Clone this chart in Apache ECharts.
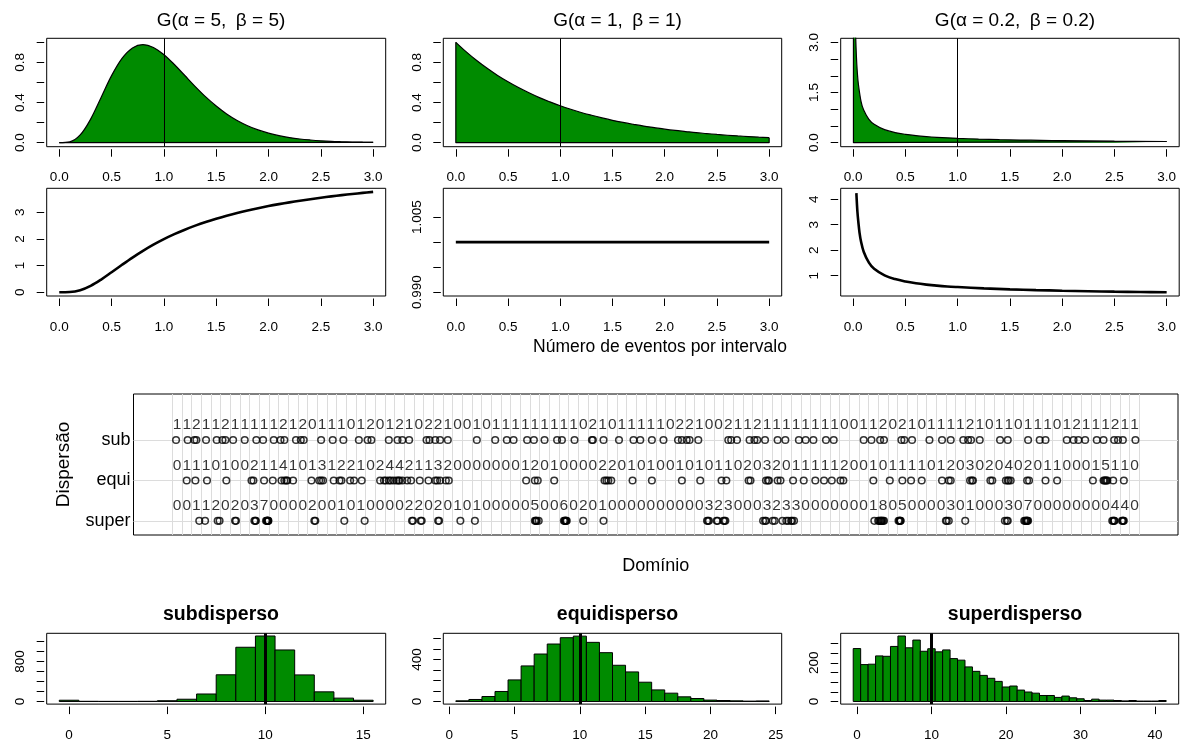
<!DOCTYPE html>
<html><head><meta charset="utf-8">
<script src="https://cdn.jsdelivr.net/npm/echarts@6/dist/echarts.min.js"></script>
<style>html,body{margin:0;padding:0;background:#fff}#c{width:1180px;height:744px}</style>
</head><body><div id="c"></div>
<script>
// ---------- data ----------
const tGrid = [0,0.1,0.2,0.3,0.4,0.5,0.6,0.7,0.8,0.9,1.0,1.1,1.2,1.3,1.4,1.5,1.6,1.7,1.8,1.9,2.0,2.1,2.2,2.3,2.4,2.5,2.6,2.7,2.8,2.9,3.0];
const dens55 = [0,0.008,0.077,0.235,0.451,0.668,0.840,0.944,0.977,0.949,0.877,0.779,0.669,0.559,0.456,0.365,0.286,0.221,0.169,0.127,0.095,0.070,0.051,0.037,0.027,0.019,0.013,0.0095,0.0067,0.0046,0.0032];
const densExp = [1.0,0.905,0.819,0.741,0.670,0.607,0.549,0.497,0.449,0.407,0.368,0.333,0.301,0.273,0.247,0.223,0.202,0.183,0.165,0.150,0.135,0.122,0.111,0.100,0.091,0.082,0.074,0.067,0.061,0.055,0.050];
const t02 = [0.002,0.01,0.02,0.03,0.04,0.05,0.075,0.1,0.15,0.2,0.3,0.4,0.5,0.6,0.7,0.8,0.9,1.0,1.2,1.4,1.6,1.8,2.0,2.5,3.0];
const dens02 = [22,6.27,3.60,2.60,2.06,1.73,1.23,0.976,0.699,0.550,0.390,0.303,0.249,0.211,0.183,0.161,0.144,0.129,0.107,0.091,0.079,0.069,0.061,0.046,0.036];
const haz55 = [0,0.008,0.077,0.240,0.476,0.750,1.031,1.302,1.553,1.784,1.992,2.179,2.348,2.499,2.636,2.760,2.874,2.976,3.069,3.154,3.234,3.306,3.373,3.433,3.492,3.546,3.596,3.643,3.687,3.728,3.766];
const tHazExp = [0,3]; const hazExp = [1,1];
const tHaz02 = [0.03,0.04,0.05,0.06,0.075,0.1,0.15,0.2,0.3,0.4,0.5,0.6,0.7,0.8,0.9,1.0,1.25,1.5,1.75,2.0,2.25,2.5,2.75,3.0];
const haz02 = [4.24,3.51,3.06,2.69,2.33,1.94,1.51,1.27,1.01,0.863,0.768,0.699,0.648,0.607,0.575,0.552,0.50,0.462,0.432,0.408,0.388,0.371,0.357,0.345];

const rowNames = ['super','equi','sub'];
const subCounts = [1,1,2,1,1,2,1,1,1,1, 1,2,1,2,0,1,1,1,0,1, 2,0,1,2,1,0,2,2,1,0, 0,1,0,1,1,1,1,1,1,1, 1,1,0,2,1,0,1,1,1,1,
                   1,0,2,2,1,0,0,2,1,1, 2,1,1,1,1,1,1,1,1,0, 0,1,1,2,0,2,1,0,1,1, 1,1,2,1,0,1,1,0,1,1, 1,0,1,2,1,1,1,2,1,1];
const equiCounts = [0,1,1,1,0,1,0,0,2,1, 1,4,1,0,1,3,1,2,2,1, 0,2,4,4,2,1,1,3,2,0, 0,0,0,0,0,0,1,2,0,1, 0,0,0,0,2,2,0,1,0,1,
                    0,0,1,0,1,0,1,1,0,2, 0,3,2,0,1,1,1,1,1,2, 0,0,1,0,1,1,1,1,0,1, 2,0,3,0,2,0,4,0,2,0, 1,1,0,0,0,1,5,1,1,0];
const superCounts = [0,0,1,1,2,0,2,0,3,7, 0,0,0,0,2,0,0,1,0,1, 0,0,0,0,2,2,0,2,0,1, 0,1,0,0,0,0,0,5,0,0, 6,0,2,0,1,0,0,0,0,0,
                     0,0,0,0,0,3,2,3,0,0, 0,3,2,3,3,0,0,0,0,0, 0,0,1,8,0,5,0,0,0,0, 3,0,1,0,0,0,3,0,7,0, 0,0,0,0,0,0,0,4,4,0];
const subEvents = [0.4,1.6,2.3,2.5,3.5,4.6,5.2,5.5,6.3,7.5,8.7,9.4,10.5,11.2,11.6,12.8,13.3,13.6,15.4,16.6,17.7,19.3,20.2,20.6,22.4,23.3,23.8,24.5,
  26.3,26.6,27.2,27.7,28.5,31.5,33.4,34.6,35.3,36.7,37.4,38.5,39.8,40.3,41.6,43.4,43.5,44.6,46.2,47.7,48.4,49.6,50.8,52.3,52.7,53.2,53.5,54.4,
  57.5,57.8,58.4,59.7,60.2,60.5,61.3,62.6,63.4,64.8,65.5,66.3,67.6,68.4,71.5,72.3,73.2,73.6,75.4,75.7,76.5,78.3,79.6,80.5,81.8,82.3,82.6,83.5,
  85.6,86.4,88.5,89.7,90.3,92.5,93.2,93.7,94.4,95.6,96.3,97.4,97.8,98.3,99.6];
const equiEvents = [1.5,2.4,3.6,5.6,8.2,8.4,9.5,10.4,11.3,11.6,11.8,11.9,12.5,14.4,15.2,15.4,15.6,16.7,17.3,17.5,18.4,18.8,19.6,21.5,21.9,
  22.1,22.4,22.6,22.9,23.2,23.4,23.5,23.8,24.3,24.7,25.6,26.5,27.2,27.4,27.7,28.3,28.6,36.6,37.5,37.8,39.5,44.7,44.9,45.1,45.4,47.6,49.6,
  52.7,54.6,56.8,57.3,59.6,59.8,61.4,61.6,61.7,62.6,62.9,64.2,65.3,66.5,67.4,68.2,69.1,69.4,72.5,74.2,75.5,76.4,77.5,79.6,80.3,80.5,
  82.5,82.7,82.8,84.6,84.8,86.2,86.4,86.5,86.7,88.4,88.6,90.3,91.5,95.2,96.3,96.4,96.5,96.6,96.7,97.3,98.4];
const superEvents = [2.8,3.4,4.7,4.9,6.5,6.6,8.5,8.6,8.65,9.7,9.8,9.82,9.85,9.9,9.92,9.95,14.7,14.8,17.8,19.9,24.8,24.9,25.7,25.8,27.5,27.6,29.8,
  31.3,37.5,37.6,37.62,37.7,37.9,40.5,40.6,40.62,40.7,40.72,40.8,42.5,44.6,55.3,55.4,55.5,56.3,56.4,57.0,57.1,57.2,61.1,61.3,61.4,62.1,62.3,
  63.1,63.5,63.7,64.0,64.1,64.3,72.6,73.0,73.1,73.2,73.3,73.32,73.4,73.5,73.6,75.1,75.2,75.22,75.3,75.32,80.0,80.1,80.3,82.0,86.1,86.3,86.4,
  88.1,88.2,88.3,88.32,88.4,88.42,88.5,97.2,97.3,97.4,97.42,98.2,98.3,98.32,98.4];

const subVals   = [25,3,2,2,3,15,45,150,535,1087,1313,1033,533,193,67,25];
const equiStart = 1;
const equiVals  = [6,19,47,95,205,338,451,546,606,621,562,464,344,281,183,110,79,44,28,13,9,6,3,5];
const superStart = 0;
const superVals = [274,191,193,236,234,285,339,278,318,260,273,257,267,222,214,179,156,135,120,104,75,80,59,49,43,31,31,21,28,19,14,5,12,7,7,5,3,5,2,2,2,5];
const meanLine = 10;

// ---------- helpers ----------
const FONT = "'Liberation Sans', Arial, Helvetica, sans-serif";
const GREEN = '#008b00';
const zip = (a,b)=>a.map((v,i)=>[v,b[i]]);
const grids = [
  {left:46.7, top:38.3, width:339, height:108.4},
  {left:443.3, top:38.3, width:338.4, height:108.4},
  {left:840.7, top:38.3, width:338.5, height:108.4},
  {left:46.7, top:188.3, width:339, height:107.7},
  {left:443.3, top:188.3, width:338.4, height:107.7},
  {left:840.7, top:188.3, width:338.5, height:107.7},
  {left:133.5, top:394, width:1044.5, height:141},
  {left:46.7, top:633.3, width:339, height:70.8},
  {left:443.3, top:633.3, width:338.4, height:70.8},
  {left:840.7, top:633.3, width:338, height:70.8}
].map(g=>Object.assign({show:true, borderColor:'#000', borderWidth:1, backgroundColor:'transparent', containLabel:false}, g));

function xAx(gi, min, max, ticks, fmt){
  return {type:'value', gridIndex:gi, min, max, offset:2.5,
    axisLine:{show:false, onZero:false}, splitLine:{show:false},
    axisTick:{show:true, length:7.5, customValues:ticks, lineStyle:{color:'#000', width:1}},
    axisLabel:{show:true, customValues:ticks, formatter:fmt, color:'#000', fontSize:13.5, fontFamily:FONT, margin:21.5}};
}
function yAx(gi, min, max, ticks, labels, fmt){
  return {type:'value', gridIndex:gi, min, max, offset:2.5,
    axisLine:{show:false, onZero:false}, splitLine:{show:false},
    axisTick:{show:true, length:7.5, customValues:ticks, lineStyle:{color:'#000', width:1}},
    axisLabel:{show:true, customValues:labels, formatter:fmt, rotate:90, color:'#000', fontSize:13.5, fontFamily:FONT, margin:17}};
}
const f1 = v=>v.toFixed(1), f0 = v=>String(Math.round(v)), f3 = v=>v.toFixed(3);
const xT = [0,0.5,1,1.5,2,2.5,3];

const xAxes = [], yAxes = [], series = [];
for (let i=0;i<6;i++) xAxes.push(xAx(i,-0.12,3.12,xT,f1));
yAxes.push(yAx(0,-0.04,1.04,[0,0.2,0.4,0.6,0.8,1.0],[0,0.4,0.8],f1));
yAxes.push(yAx(1,-0.04,1.04,[0,0.2,0.4,0.6,0.8,1.0],[0,0.4,0.8],f1));
yAxes.push(yAx(2,-0.12,3.12,[0,0.5,1,1.5,2,2.5,3],[0,1.5,3],f1));
yAxes.push(yAx(3,-0.14,3.9,[0,1,2,3],[0,1,2,3],f0));
yAxes.push(yAx(4,0.9892,1.0108,[0.990,0.995,1.000,1.005],[0.990,1.005],f3));
yAxes.push(yAx(5,0.2,4.43,[1,2,3,4],[1,2,3,4],f0));

const vline = v => ({silent:true, symbol:['none','none'], label:{show:false}, animation:false,
  lineStyle:{color:'#000', width:1, type:'solid'}, data:[{xAxis:v}]});

function densSeries(ai, xs, ys){
  series.push({type:'line', xAxisIndex:ai, yAxisIndex:ai, data:zip(xs,ys), smooth:0.35, showSymbol:false, clip:true,
    lineStyle:{color:'#000', width:1.2}, areaStyle:{color:GREEN, opacity:1}, markLine:vline(1), z:2});
  const n = xs.length-1;
  series.push({type:'line', xAxisIndex:ai, yAxisIndex:ai, showSymbol:false, clip:true,
    data:[[xs[n],ys[n]],[xs[n],0],[xs[0],0],[xs[0],ys[0]]], lineStyle:{color:'#000', width:1.2}, z:3});
}
densSeries(0, tGrid, dens55);
densSeries(1, tGrid, densExp);
densSeries(2, t02, dens02);
function hazSeries(ai, xs, ys){
  series.push({type:'line', xAxisIndex:ai, yAxisIndex:ai, data:zip(xs,ys), smooth:0.35, showSymbol:false, clip:true,
    lineStyle:{color:'#000', width:2.6}});
}
hazSeries(3, tGrid, haz55);
hazSeries(4, tHazExp, hazExp);
hazSeries(5, tHaz02, haz02);

// ---------- strip ----------
xAxes.push({type:'value', gridIndex:6, min:-4, max:104, show:true, axisLine:{show:false, onZero:false}, axisTick:{show:false}, axisLabel:{show:false}, splitLine:{show:false},
  name:'Domínio', nameLocation:'middle', nameGap:22, nameTextStyle:{color:'#000', fontSize:18, fontFamily:FONT}});
yAxes.push({type:'value', gridIndex:6, min:0.65, max:4.14, axisLine:{show:false, onZero:false}, axisTick:{show:false}, splitLine:{show:false},
  axisLabel:{show:true, customValues:[1,2,3], formatter:v=>rowNames[Math.round(v)-1], color:'#000', fontSize:18, fontFamily:FONT, margin:3},
  name:'Dispersão', nameLocation:'middle', nameRotate:90, nameGap:60, nameTextStyle:{color:'#000', fontSize:19, fontFamily:FONT}});

const rowCounts = [superCounts, equiCounts, subCounts];
const rowEvents = [superEvents, equiEvents, subEvents];
const labelData = [], gridLines = [], pts = [];
rowCounts.forEach((cs, r) => cs.forEach((c, i) => labelData.push([i+0.5, r+1+0.375, c])));
rowEvents.forEach((ev, r) => ev.forEach(t => pts.push([t, r+1])));
for (let i=0;i<=subCounts.length;i++) gridLines.push({xAxis:i});
for (let r=1;r<=3;r++) gridLines.push({yAxis:r});
series.push({type:'scatter', xAxisIndex:6, yAxisIndex:6, data:labelData, symbolSize:1, itemStyle:{color:'rgba(0,0,0,0)'},
  label:{show:true, position:'inside', formatter:p=>String(p.value[2]), color:'#000', fontSize:15.5, fontFamily:FONT},
  markLine:{silent:true, symbol:['none','none'], label:{show:false}, animation:false, lineStyle:{color:'#dcdcdc', width:1, type:'solid'}, data:gridLines}, z:2});
series.push({type:'scatter', xAxisIndex:6, yAxisIndex:6, data:pts, symbol:'circle', symbolSize:6.6,
  itemStyle:{color:'rgba(0,0,0,0)', borderColor:'#000', borderWidth:1.5}, z:5});

// ---------- histograms ----------
function histItem(params, api){
  const k = api.value(0), c = api.value(1);
  const p0 = api.coord([k-0.5, 0]), p1 = api.coord([k+0.5, c]);
  return {type:'rect', shape:{x:p0[0], y:p1[1], width:p1[0]-p0[0], height:p0[1]-p1[1]},
    style:{fill:GREEN, stroke:'#000', lineWidth:1}};
}
function hist(gi, start, vals, xmin, xmax, xt, ymin, ymax, yt, yl){
  xAxes.push(xAx(gi, xmin, xmax, xt, f0));
  yAxes.push(yAx(gi, ymin, ymax, yt, yl, f0));
  const ai = xAxes.length-1;
  series.push({type:'custom', xAxisIndex:ai, yAxisIndex:ai, renderItem:histItem, clip:true,
    data:vals.map((v,i)=>[start+i, v]), encode:{x:0,y:1}});
  series.push({type:'line', xAxisIndex:ai, yAxisIndex:ai, data:[[meanLine,0]], showSymbol:false, lineStyle:{width:0},
    markLine:{silent:true, symbol:['none','none'], label:{show:false}, animation:false, lineStyle:{color:'#000', width:3, type:'solid'}, data:[{xAxis:meanLine}]}, z:4});
}
hist(7, 0, subVals, -1.14, 16.14, [0,5,10,15], -52.6, 1367, [0,200,400,600,800,1000,1200], [0,800]);
hist(8, equiStart, equiVals, -0.46, 25.46, [0,5,10,15,20,25], -25, 648, [0,100,200,300,400,500,600], [0,400]);
hist(9, superStart, superVals, -2.18, 43.18, [0,10,20,30,40], -13.6, 353, [0,50,100,150,200,250,300], [0,200]);

// ---------- titles ----------
const tt = (text, x, y, size, bold) => ({text, left:x, top:y, textAlign:'center',
  textStyle:{fontSize:size, fontWeight:bold?'bold':'normal', fontFamily:FONT, color:'#000'}});
const titles = [
  tt('G(α = 5,\u2002β = 5)', 216, 6, 19),
  tt('G(α = 1,\u2002β = 1)', 612.5, 6, 19),
  tt('G(α = 0.2,\u2002β = 0.2)', 1010, 6, 19),
  tt('Número de eventos por intervalo', 655, 333, 17.5),
  tt('subdisperso', 216, 600, 19.5, true),
  tt('equidisperso', 612.5, 600, 19.5, true),
  tt('superdisperso', 1010, 600, 19.5, true)
];

const chart = echarts.init(document.getElementById('c'), null, {renderer:'canvas'});
chart.setOption({animation:false, backgroundColor:'#fff', title:titles, grid:grids, xAxis:xAxes, yAxis:yAxes, series});
</script></body></html>
